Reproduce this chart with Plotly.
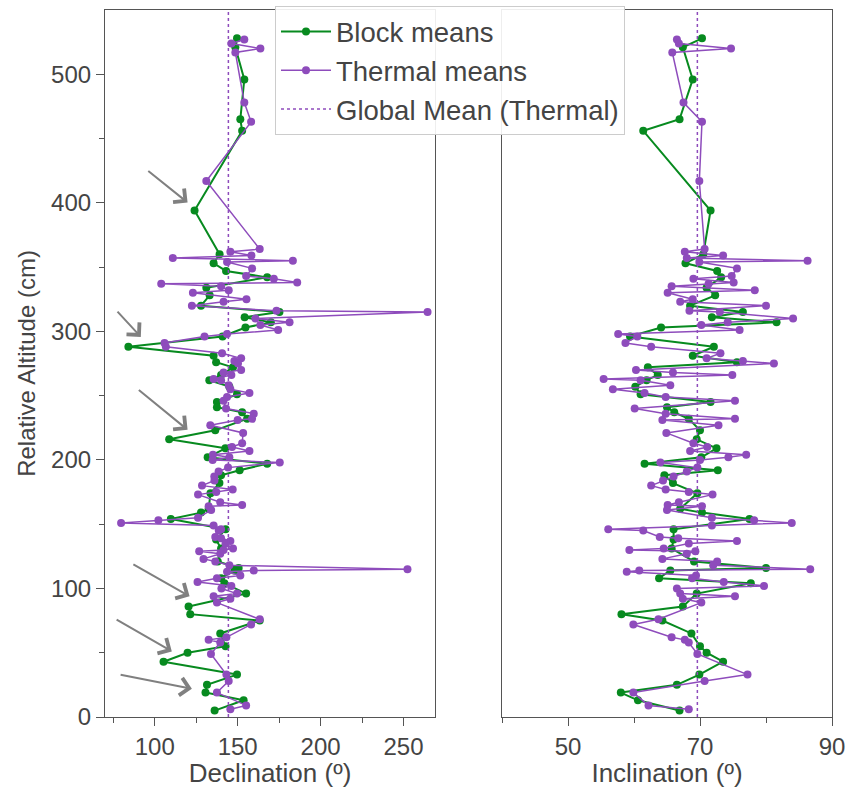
import plotly.graph_objects as go

# ---------------- data ----------------
block_alt = [528, 521, 496, 465, 456, 394, 360, 353, 347, 342, 334, 328, 320, 315, 311, 307,
             303, 296, 288, 281, 276, 272, 266, 262, 257, 251, 245, 241, 237, 232, 223, 216,
             209, 202, 197, 192, 188, 182, 174, 162, 159, 154, 146, 138, 131, 121, 116, 114,
             108, 104, 96, 86, 80, 75, 65, 55, 50, 43, 33, 25, 19, 13, 5]
block_dec = [149.6, 148.6, 154.0, 151.6, 152.7, 124.0, 139.1, 135.5, 143.0, 167.8, 131.1, 133.1,
             127.9, 175.2, 154.2, 170.0, 154.7, 140.9, 84.1, 135.5, 137.0, 147.2, 140.0, 132.9,
             145.0, 149.6, 137.5, 137.5, 152.7, 155.7, 136.5, 108.7, 142.6, 131.9, 167.8, 151.2,
             140.0, 139.0, 133.6, 132.5, 127.9, 109.7, 142.7, 137.0, 140.0, 138.0, 150.6, 148.0,
             140.0, 142.0, 155.1, 120.4, 121.4, 163.3, 139.5, 142.7, 119.8, 105.3, 149.6, 131.5,
             130.6, 153.6, 136.1]
block_inc = [70.3, 67.4, 68.9, 66.9, 61.4, 71.6, 70.5, 67.8, 72.6, 73.2, 71.0, 72.3,
             68.5, 76.5, 71.8, 81.6, 64.1, 59.4, 72.1, 68.9, 75.6, 62.1, 63.6, 61.9,
             60.2, 61.0, 71.6, 65.0, 66.1, 68.3, 70.0, 69.5, 72.5, 70.2, 61.6, 72.7,
             64.6, 65.9, 69.6, 67.0, 70.3, 77.5, 66.0, 66.0, 65.7, 69.1, 80.0, 65.5,
             63.8, 77.7, 69.5, 67.4, 58.1, 64.3, 68.7, 70.0, 71.0, 73.5, 69.9, 66.5,
             58.0, 60.6, 66.9]

thermal_alt = [527, 524, 520, 517, 478, 463, 417, 364, 362, 359, 357, 355, 354, 349, 343, 341,
               338, 337, 335, 332, 330, 325, 323, 320, 316, 315, 310, 307, 305, 301, 298, 296,
               291, 288, 283, 279, 277, 275, 270, 268, 266, 263, 262, 258, 255, 252, 249, 246,
               240, 236, 232, 231, 227, 221, 213, 210, 207, 204, 202, 200, 198, 194, 191, 187,
               184, 180, 177, 175, 173, 167, 165, 164, 161, 155, 153, 151, 149, 146, 145, 140,
               139, 137, 135, 131, 130, 129, 127, 123, 121, 118, 115, 114, 113, 110, 108, 105,
               102, 100, 96, 94, 92, 89, 76, 72, 62, 60, 58, 49, 33, 28, 19, 9, 6]
thermal_dec = [154.0, 146.2, 163.7, 148.6, 154.0, 158.1, 131.1, 163.3, 145.6, 158.3, 110.9, 183.3,
               143.6, 158.7, 155.1, 171.8, 185.9, 103.9, 140.0, 144.6, 123.0, 155.3, 141.5, 122.4,
               173.4, 264.5, 160.7, 181.3, 163.7, 174.4, 143.6, 130.0, 105.9, 106.7, 140.6, 152.1,
               148.0, 150.2, 152.1, 141.5, 146.2, 135.5, 140.0, 144.6, 145.6, 157.1, 143.6, 141.5,
               143.0, 159.7, 158.7, 150.0, 133.5, 153.3, 152.7, 146.6, 157.1, 135.1, 145.0, 134.9,
               175.4, 144.2, 138.5, 135.9, 136.0, 128.5, 147.0, 137.1, 126.1, 139.5, 152.7, 132.5,
               134.0, 126.1, 102.2, 79.7, 135.5, 140.0, 138.6, 136.5, 140.0, 145.6, 142.7, 147.2,
               141.5, 126.8, 139.5, 129.4, 136.5, 145.0, 252.4, 159.7, 143.6, 151.6, 137.5, 125.8,
               146.2, 140.2, 149.6, 135.5, 145.6, 137.5, 163.3, 158.1, 143.2, 132.5, 139.5, 133.9,
               143.2, 144.6, 137.5, 155.1, 145.6]
thermal_inc = [66.5, 66.8, 74.7, 65.8, 67.5, 70.3, 69.9, 70.7, 67.7, 73.5, 68.0, 86.3,
               69.9, 75.6, 74.8, 69.0, 75.1, 71.3, 65.7, 78.3, 65.1, 68.9, 67.0, 80.0,
               68.4, 73.0, 84.1, 74.2, 70.2, 76.0, 57.6, 60.5, 58.7, 62.6, 73.1, 71.0,
               76.5, 81.2, 60.3, 65.9, 74.9, 55.4, 61.0, 65.5, 56.8, 61.6, 64.8, 75.3,
               60.1, 64.8, 75.3, 64.3, 72.8, 64.9, 69.0, 71.1, 68.5, 77.0, 74.3, 70.0,
               64.0, 69.6, 68.0, 66.0, 64.4, 62.6, 64.8, 68.3, 71.9, 66.8, 65.1, 70.3,
               65.0, 71.8, 78.2, 83.9, 71.8, 56.1, 61.4, 63.9, 66.7, 75.6, 68.3, 64.5,
               59.3, 69.3, 68.0, 64.3, 72.6, 72.0, 86.7, 60.8, 58.9, 69.4, 68.8, 73.6,
               79.7, 66.5, 67.0, 75.3, 67.4, 70.2, 63.7, 59.9, 65.7, 67.7, 68.3, 69.6,
               77.2, 70.7, 59.9, 62.2, 68.3]

global_mean_dec = 144.4
global_mean_inc = 69.6

# arrows (declination, altitude): tail -> head
arrow_tail_dec = [95.2, 76.7, 89.5, 86.2, 76.1, 78.5]
arrow_tail_alt = [425.7, 316.5, 255.4, 119.4, 76.5, 33.1]
arrow_head_dec = [119.8, 91.6, 119.8, 121.0, 110.3, 122.4]
arrow_head_alt = [400.2, 295.7, 223.4, 93.9, 51.0, 21.9]

alt_range = [0, 550]
dec_range = [70, 269]
inc_range = [40, 90]
alt_ticks = [0, 100, 200, 300, 400, 500]
alt_minor = [50, 150, 250, 350, 450]
dec_ticks = [100, 150, 200, 250]
dec_minor = [75, 125, 175, 225]
inc_ticks = [50, 70, 90]
inc_minor = [40, 60, 80]

# ---------------- style ----------------
GREEN = "#078a1f"
PURPLE = "#8e4cbc"
AXC = "#555555"
TXT = "#444444"
FONT = "Liberation Sans, Arial, sans-serif"

fig = go.Figure()

fig.add_trace(go.Scatter(x=block_dec, y=block_alt, mode="lines+markers", name="Block means",
                         line=dict(color=GREEN, width=2), marker=dict(size=8, color=GREEN),
                         xaxis="x", yaxis="y", legendgroup="b"))
fig.add_trace(go.Scatter(x=block_inc, y=block_alt, mode="lines+markers", name="Block means",
                         line=dict(color=GREEN, width=2), marker=dict(size=8, color=GREEN),
                         xaxis="x2", yaxis="y2", legendgroup="b", showlegend=False))
fig.add_trace(go.Scatter(x=thermal_dec, y=thermal_alt, mode="lines+markers", name="Thermal means",
                         line=dict(color=PURPLE, width=1.5), marker=dict(size=8, color=PURPLE),
                         xaxis="x", yaxis="y", legendgroup="t"))
fig.add_trace(go.Scatter(x=thermal_inc, y=thermal_alt, mode="lines+markers", name="Thermal means",
                         line=dict(color=PURPLE, width=1.5), marker=dict(size=8, color=PURPLE),
                         xaxis="x2", yaxis="y2", legendgroup="t", showlegend=False))
fig.add_trace(go.Scatter(x=[global_mean_dec, global_mean_dec], y=alt_range, mode="lines",
                         name="Global Mean (Thermal)",
                         line=dict(color=PURPLE, width=1.5, dash="dot"),
                         xaxis="x", yaxis="y", legendgroup="g"))
fig.add_trace(go.Scatter(x=[global_mean_inc, global_mean_inc], y=alt_range, mode="lines",
                         name="Global Mean (Thermal)",
                         line=dict(color=PURPLE, width=1.5, dash="dot"),
                         xaxis="x2", yaxis="y2", legendgroup="g", showlegend=False))

for td, ta, hd, ha in zip(arrow_tail_dec, arrow_tail_alt, arrow_head_dec, arrow_head_alt):
    fig.add_annotation(x=hd, y=ha, ax=td, ay=ta, xref="x", yref="y", axref="x", ayref="y",
                       text="", showarrow=True, arrowhead=4, arrowsize=1.7, arrowwidth=2,
                       arrowcolor="#808080")

W, H = 851, 788
ml, mr, mt, mb = 105, 19, 6, 71
pw = W - ml - mr
ph = H - mt - mb
d1 = (435 - ml) / pw
d2 = (502 - ml) / pw
ytop = (H - mb - 10) / ph   # plot frame top sits 10 px below the page top

common_axis = dict(showline=True, linecolor=AXC, linewidth=1.2, mirror=True, showgrid=False,
                   zeroline=False, ticks="outside", ticklen=8, tickwidth=1.2, tickcolor=AXC,
                   tickfont=dict(size=24, color=TXT, family=FONT))

fig.update_layout(
    width=W, height=H, margin=dict(l=ml, r=mr, t=mt, b=mb),
    paper_bgcolor="white", plot_bgcolor="white",
    font=dict(family=FONT, color=TXT),
    xaxis=dict(domain=[0, d1], range=dec_range, tickmode="array", tickvals=dec_ticks,
               minor=dict(tickmode="array", tickvals=dec_minor, ticks="outside", ticklen=5,
                          tickcolor=AXC, tickwidth=1),
               title=dict(text="Declination (º)", font=dict(size=26, color=TXT), standoff=2),
               anchor="y", automargin=False, **common_axis),
    xaxis2=dict(domain=[d2, 1], range=inc_range, tickmode="array", tickvals=inc_ticks,
                minor=dict(tickmode="array", tickvals=inc_minor, ticks="outside", ticklen=5,
                           tickcolor=AXC, tickwidth=1),
                title=dict(text="Inclination (º)", font=dict(size=26, color=TXT), standoff=2),
                anchor="y2", automargin=False, **common_axis),
    yaxis=dict(domain=[0, ytop], range=alt_range, tickmode="array", tickvals=alt_ticks,
               minor=dict(tickmode="array", tickvals=alt_minor, ticks="outside", ticklen=5,
                          tickcolor=AXC, tickwidth=1),
               title=dict(text="Relative Altitude (cm)", font=dict(size=24, color=TXT), standoff=8),
               anchor="x", automargin=False, **common_axis),
    yaxis2=dict(domain=[0, ytop], range=alt_range, matches="y", anchor="x2", showticklabels=False,
                showline=True, linecolor=AXC, linewidth=1.2, mirror=True, showgrid=False,
                zeroline=False, ticks=""),
    legend=dict(x=(275 - ml) / pw, y=1, xanchor="left", yanchor="top",
                bgcolor="rgba(255,255,255,0.9)", bordercolor="#cccccc", borderwidth=1,
                font=dict(size=27.5, color=TXT, family=FONT), tracegroupgap=0, itemwidth=50),
    showlegend=True,
)

fig.write_html("out.html")
